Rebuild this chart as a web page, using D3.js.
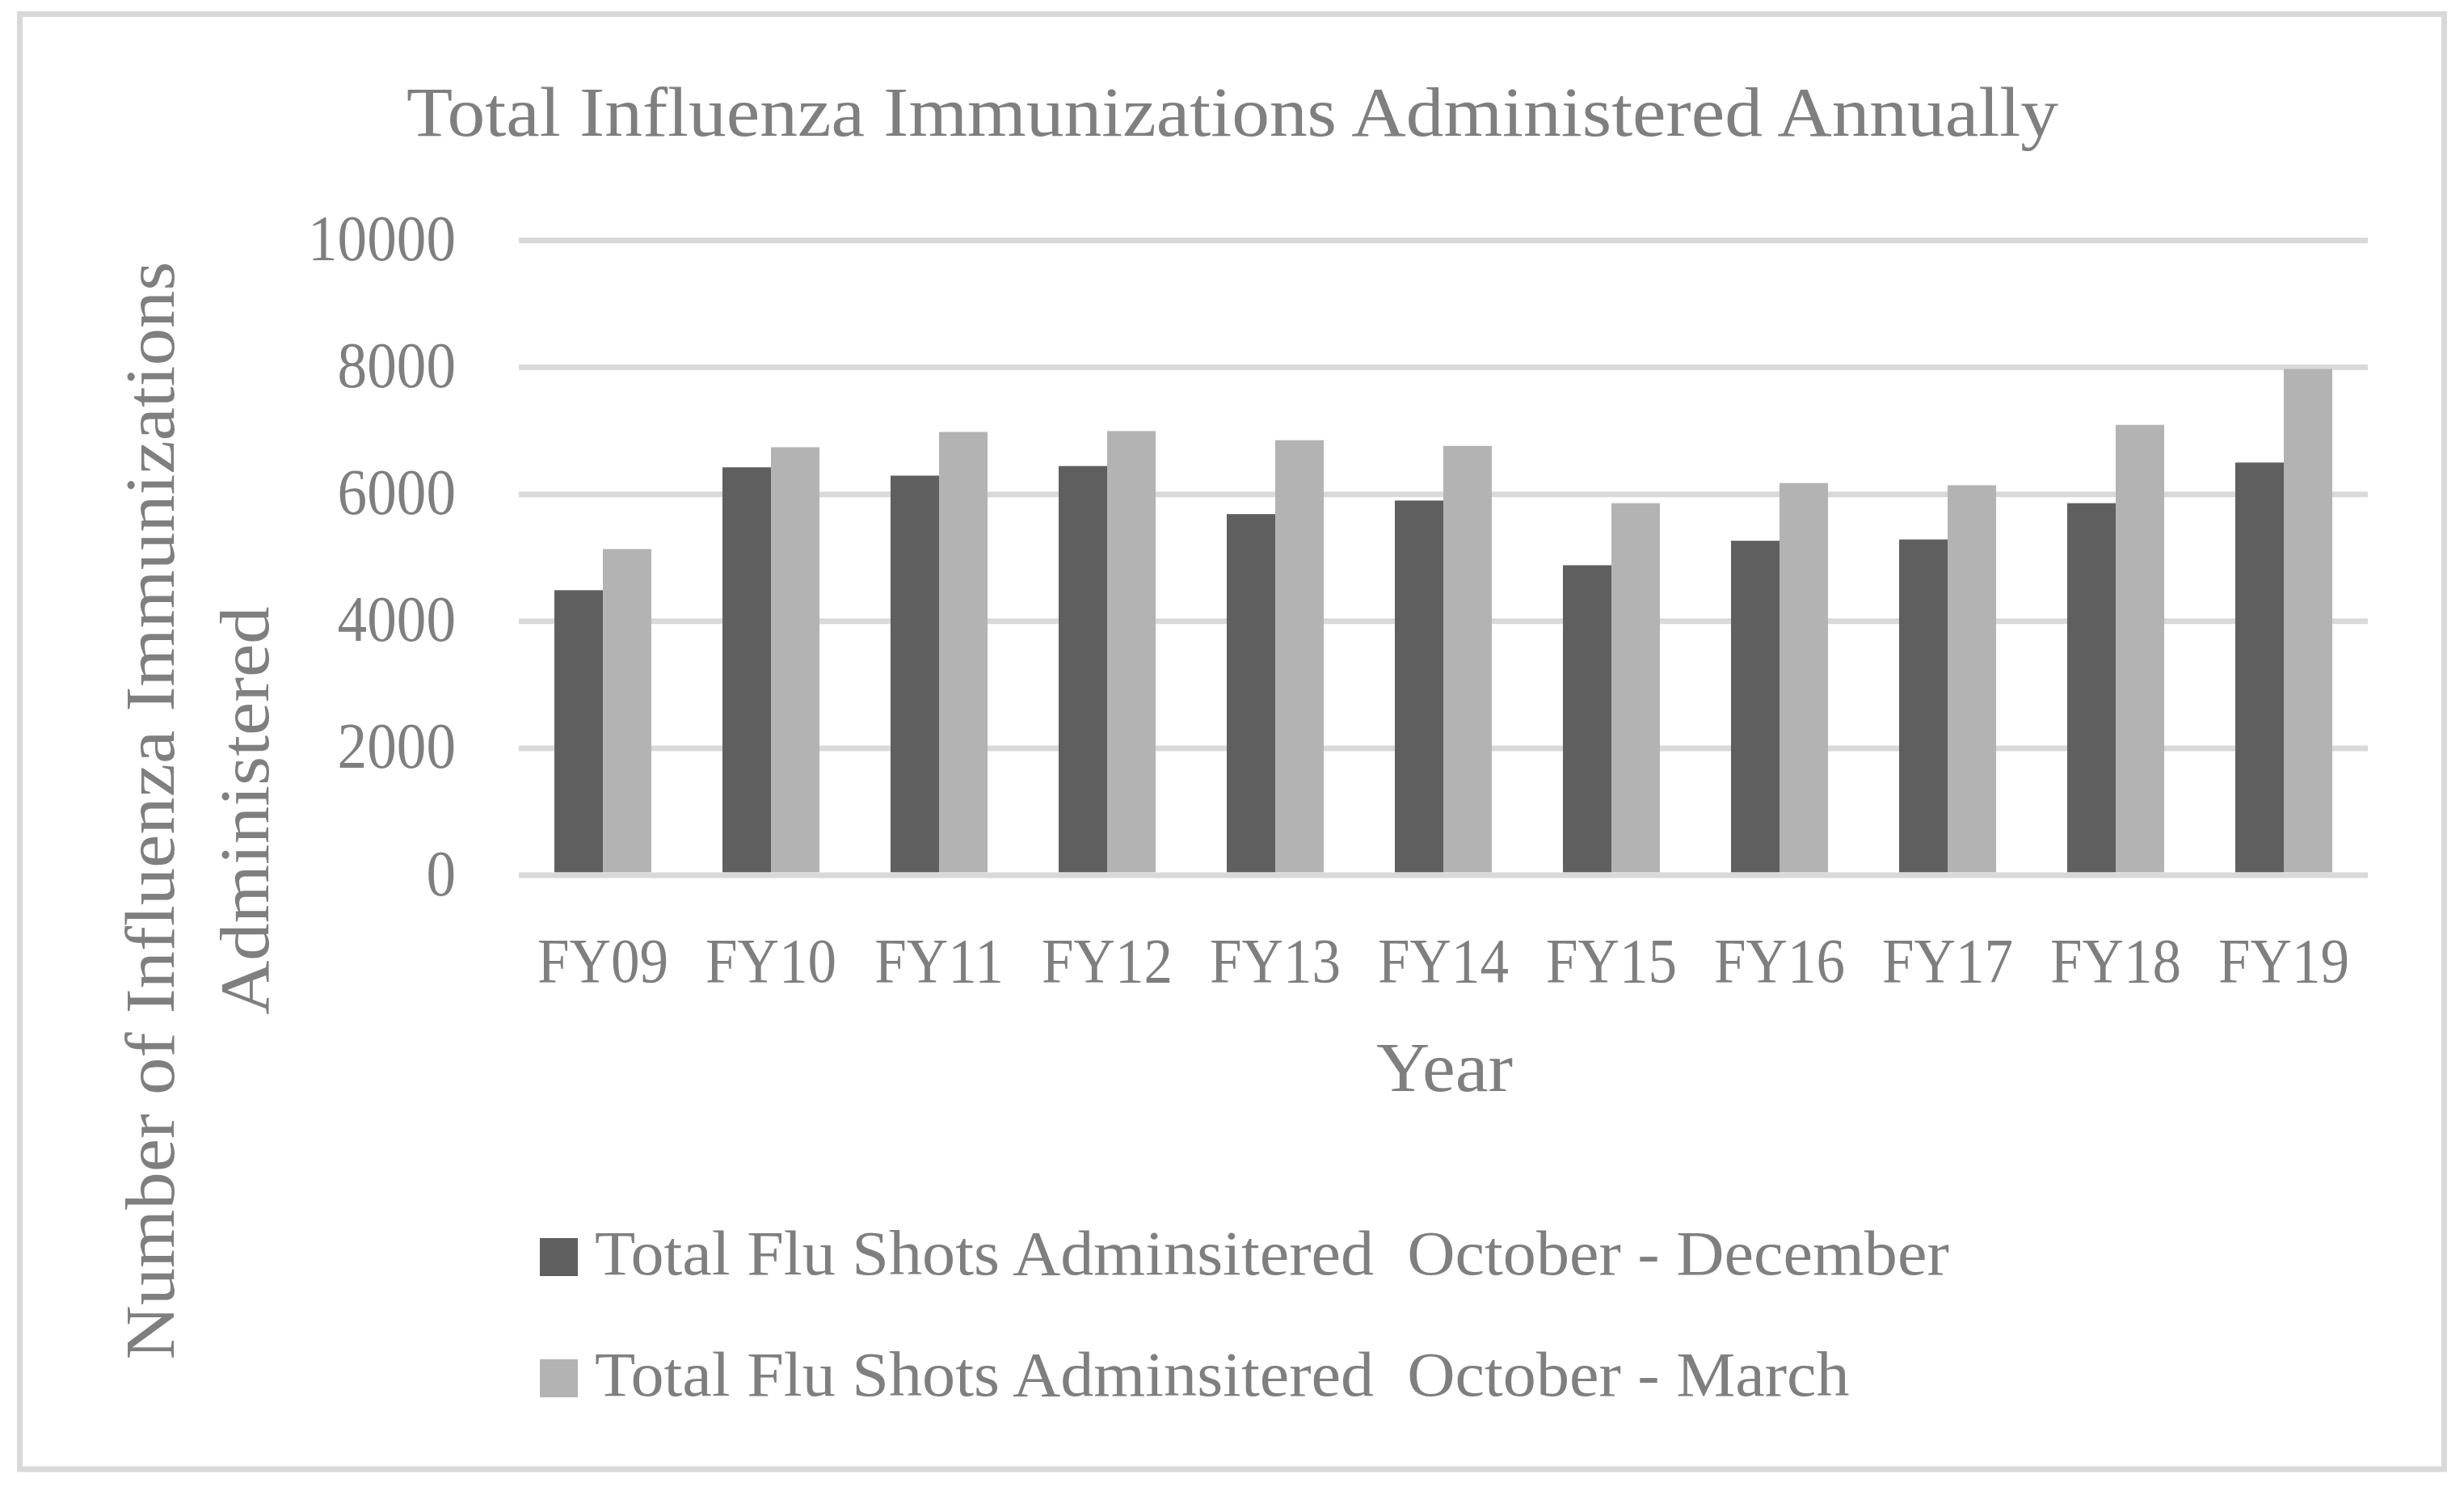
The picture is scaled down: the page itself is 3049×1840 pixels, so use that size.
<!DOCTYPE html>
<html>
<head>
<meta charset="utf-8">
<script src="https://cdn.jsdelivr.net/npm/d3@7"></script>
<style>
  html, body { margin: 0; padding: 0; background: #ffffff; }
  svg text { font-family: "Liberation Serif", "Times New Roman", serif; fill: #7f7f7f; white-space: pre; }
</style>
</head>
<body>
<svg id="chart" width="3049" height="1840"></svg>
<script>
// ---- data ----
const categories = ["FY09", "FY10", "FY11", "FY12", "FY13", "FY14", "FY15", "FY16", "FY17", "FY18", "FY19"];
const seriesNames = [
  "Total Flu Shots Adminsitered  October - December",
  "Total Flu Shots Adminsitered  October - March"
];
const octDec = [4490, 6426, 6295, 6446, 5689, 5902, 4883, 5269, 5289, 5861, 6501];
const octMar = [5138, 6742, 6983, 6997, 6853, 6763, 5861, 6178, 6143, 7094, 7975];
const yTicks = [0, 2000, 4000, 6000, 8000, 10000];
const chartTitle = "Total Influenza Immunizations Administered Annually";
const xTitle = "Year";
const yTitleLines = ["Number of Influenza Immunizations", "Administered"];
const seriesColors = ["#5f5f5f", "#b3b3b3"];

// ---- layout ----
const svg = d3.select("#chart");
const plot = { left: 642, right: 2930, top: 297.5, bottom: 1083 };

// helper: natural width of a string at a font size
const probe = svg.append("text").attr("x", -9999).attr("y", -9999);
function natural(str, size) {
  probe.attr("font-size", size).text(str);
  return probe.node().getComputedTextLength();
}

// border
svg.append("rect")
  .attr("x", 24.5).attr("y", 17.5)
  .attr("width", 3000).attr("height", 1800.5)
  .attr("fill", "#ffffff")
  .attr("stroke", "#d9d9d9").attr("stroke-width", 7);

const x = d3.scaleBand().domain(categories).range([plot.left, plot.right]).paddingInner(0).paddingOuter(0);
const xs = d3.scaleBand().domain(d3.range(seriesNames.length)).range([0, x.bandwidth()]).paddingInner(0).paddingOuter(0.733);
const y = d3.scaleLinear().domain([0, 10000]).range([plot.bottom, plot.top]);

// gridlines
svg.append("g").selectAll("line").data(yTicks.filter(d => d !== 0)).join("line")
  .attr("x1", plot.left).attr("x2", plot.right)
  .attr("y1", d => y(d)).attr("y2", d => y(d))
  .attr("stroke", "#d9d9d9").attr("stroke-width", 7);

// bars
const rows = categories.map((c, i) => ({ cat: c, vals: [octDec[i], octMar[i]] }));
svg.append("g").selectAll("g").data(rows).join("g")
  .attr("transform", d => `translate(${x(d.cat)},0)`)
  .selectAll("rect").data(d => d.vals.map((v, j) => ({ v, j }))).join("rect")
  .attr("x", d => xs(d.j))
  .attr("width", xs.bandwidth())
  .attr("y", d => y(d.v))
  .attr("height", d => y(0) - 3.5 - y(d.v))
  .attr("fill", d => seriesColors[d.j]);

// baseline
svg.append("line")
  .attr("x1", plot.left).attr("x2", plot.right)
  .attr("y1", y(0)).attr("y2", y(0))
  .attr("stroke", "#d9d9d9").attr("stroke-width", 7);

// scale factors to approximate the wider Palatino-style face of the original
const titleSize = 87, tickSize = 80, labelSize = 79, axisTitleSize = 86, legendSize = 79;
const kTitle = 2044 / natural(chartTitle, titleSize);
const kTick = 183 / natural("10000", tickSize);
const kLabel = 162 / natural("FY09", labelSize);

// y axis labels (via d3 axis)
const yAxis = d3.axisLeft(y).tickValues(yTicks).tickSize(0).tickPadding(0).tickFormat(d3.format("d"));
const yG = svg.append("g").attr("transform", `translate(0,0)`).call(yAxis);
yG.select(".domain").remove();
yG.selectAll("text")
  .attr("font-size", tickSize).attr("fill", "#7f7f7f")
  .style("font-family", "'Liberation Serif', serif")
  .attr("text-anchor", "start").attr("dy", null).attr("y", 24)
  .each(function (d) {
    const w = natural(String(d), tickSize) * kTick;
    d3.select(this).attr("x", 564 - w).attr("textLength", w).attr("lengthAdjust", "spacingAndGlyphs");
  });

// x axis labels (via d3 axis)
const xAxis = d3.axisBottom(x).tickSize(0).tickPadding(0);
const xG = svg.append("g").attr("transform", `translate(0,1215)`).call(xAxis);
xG.select(".domain").remove();
xG.selectAll("text")
  .attr("font-size", labelSize).attr("fill", "#7f7f7f")
  .style("font-family", "'Liberation Serif', serif")
  .attr("text-anchor", "start").attr("dy", null).attr("y", 0)
  .each(function (d) {
    const w = natural(d, labelSize) * kLabel;
    d3.select(this).attr("x", -w / 2).attr("textLength", w).attr("lengthAdjust", "spacingAndGlyphs");
  });

// title
svg.append("text")
  .attr("x", 503).attr("y", 168)
  .attr("font-size", titleSize)
  .attr("textLength", 2044).attr("lengthAdjust", "spacingAndGlyphs")
  .text(chartTitle);

// x title
svg.append("text")
  .attr("x", 1703).attr("y", 1350)
  .attr("font-size", axisTitleSize)
  .attr("textLength", 169).attr("lengthAdjust", "spacingAndGlyphs")
  .text(xTitle);

// y title (two lines, rotated)
const yTitleBase = [215, 332];
yTitleLines.forEach((line, i) => {
  const w = natural(line, axisTitleSize) * kTitle * 1.005;
  svg.append("text")
    .attr("transform", `translate(${yTitleBase[i]},1003) rotate(-90)`)
    .attr("x", -w / 2).attr("y", 0)
    .attr("font-size", axisTitleSize)
    .attr("textLength", w).attr("lengthAdjust", "spacingAndGlyphs")
    .text(line);
});

// legend
const legendRowY = [1532, 1682];
const lg = svg.append("g").selectAll("g").data(seriesNames).join("g")
  .attr("transform", (d, i) => `translate(668,${legendRowY[i]})`);
lg.append("rect").attr("width", 47).attr("height", 47).attr("fill", (d, i) => seriesColors[i]);
lg.append("text")
  .attr("x", 68).attr("y", 45)
  .attr("font-size", legendSize)
  .text(d => d)
  .each(function (d) {
    const w = natural(d, legendSize) * kTitle * 0.968;
    d3.select(this).attr("textLength", w).attr("lengthAdjust", "spacingAndGlyphs");
  });

probe.remove();
</script>
</body>
</html>
